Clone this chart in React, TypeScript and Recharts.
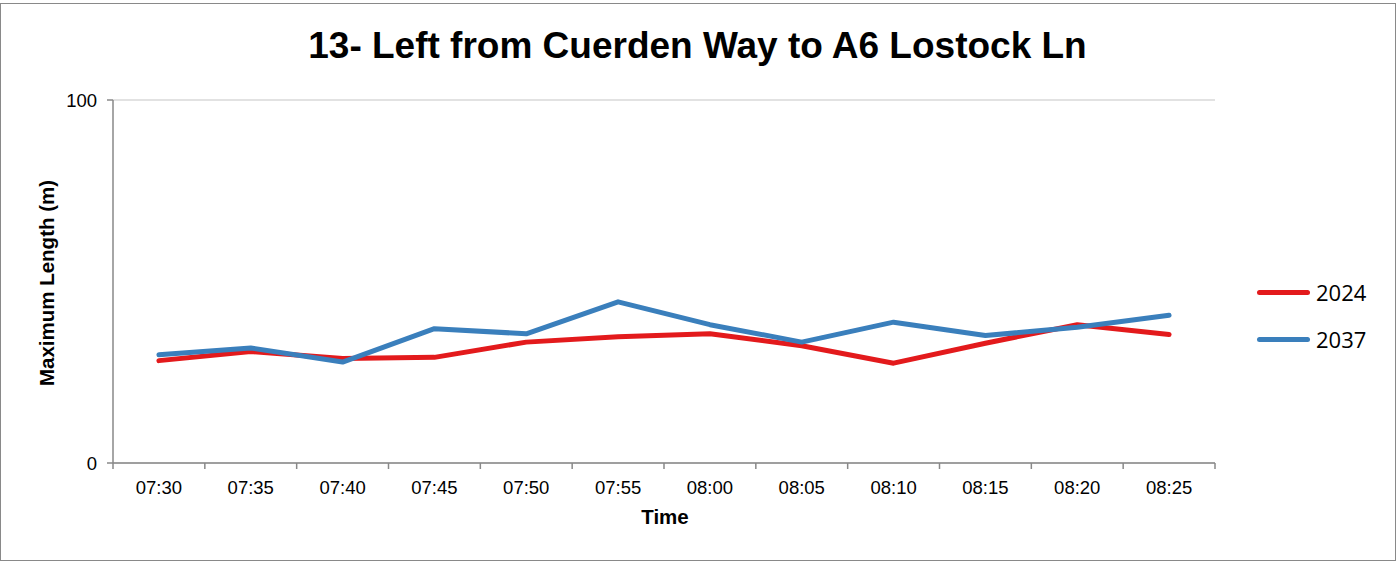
import React from 'react';
import { ComposedChart, Line, XAxis, YAxis, CartesianGrid } from 'recharts';

const times = ['07:30', '07:35', '07:40', '07:45', '07:50', '07:55', '08:00', '08:05', '08:10', '08:15', '08:20', '08:25'];
const values2024 = [28.2, 30.7, 28.8, 29.1, 33.3, 34.8, 35.6, 32.3, 27.5, 33.0, 38.1, 35.4];
const values2037 = [29.8, 31.7, 27.8, 37.0, 35.6, 44.4, 38.1, 33.3, 38.8, 35.1, 37.4, 40.7];
const yTicks = [0, 100];
const seriesNames = ['2024', '2037'];
const seriesColors = ['#e31a1c', '#3a7fbc'];

const data = times.map((t, i) => ({ time: t, s2024: values2024[i], s2037: values2037[i] }));

const W = 1397;
const H = 561;
const PLOT_LEFT = 113;
const PLOT_RIGHT = 1215;
const PLOT_TOP = 100;
const PLOT_BOTTOM = 463;
const BAND = (PLOT_RIGHT - PLOT_LEFT) / times.length;
const AXIS_COLOR = '#898989';
const FONT = '"Liberation Sans", Arial, sans-serif';

const XTick = (props: any) => {
  const { x, y, payload, index } = props;
  const last = index === times.length - 1;
  return (
    <g>
      <line x1={x - BAND / 2} x2={x - BAND / 2} y1={y} y2={y + 6} stroke={AXIS_COLOR} strokeWidth={1.5} />
      {last && <line x1={x + BAND / 2} x2={x + BAND / 2} y1={y} y2={y + 6} stroke={AXIS_COLOR} strokeWidth={1.5} />}
      <text x={x} y={y + 31} textAnchor="middle" fontSize={18.5} fill="#000" fontFamily={FONT}>
        {payload.value}
      </text>
    </g>
  );
};

export default function App() {
  return (
    <div style={{ position: 'absolute', left: 0, top: 0, width: W, height: H, background: '#fff' }}>
      <div style={{ position: 'absolute', left: 0, top: 3, width: 1394, height: 556, border: `1.5px solid ${AXIS_COLOR}` }} />
      <div
        style={{
          position: 'absolute',
          left: 0,
          top: 24,
          width: W - 2,
          textAlign: 'center',
          fontFamily: FONT,
          fontWeight: 'bold',
          fontSize: 37,
          lineHeight: '44px',
          color: '#000',
        }}
      >
        13- Left from Cuerden Way to A6 Lostock Ln
      </div>
      <div style={{ position: 'absolute', left: 0, top: 0 }}>
        <ComposedChart
          width={W}
          height={H}
          data={data}
          margin={{ top: PLOT_TOP, right: W - PLOT_RIGHT, bottom: H - PLOT_BOTTOM - 40, left: PLOT_LEFT - 80 }}
        >
          <CartesianGrid vertical={false} stroke="#d9d9d9" strokeWidth={1.5} />
          <XAxis
            dataKey="time"
            height={40}
            tickSize={0}
            tickMargin={0}
            tick={<XTick />}
            interval={0}
            padding={{ left: BAND / 2, right: BAND / 2 }}
            stroke={AXIS_COLOR}
            strokeWidth={1.5}
            label={{
              content: () => (
                <text x={665} y={524} textAnchor="middle" fontSize={20.5} fontWeight="bold" fontFamily={FONT} fill="#000">
                  Time
                </text>
              ),
            }}
          />
          <YAxis
            width={80}
            domain={[0, 100]}
            ticks={yTicks}
            tickSize={6}
            tickMargin={10}
            stroke={AXIS_COLOR}
            strokeWidth={1.5}
            tick={{ fill: '#000', fontSize: 18.5, fontFamily: FONT }}
            label={{
              content: () => (
                <text
                  x={46}
                  y={283}
                  transform="rotate(-90 46 283)"
                  textAnchor="middle"
                  dominantBaseline="central"
                  fontSize={20.5}
                  fontWeight="bold"
                  fontFamily={FONT}
                  fill="#000"
                >
                  Maximum Length (m)
                </text>
              ),
            }}
          />
          <Line dataKey="s2024" name="2024" stroke={seriesColors[0]} strokeWidth={5} dot={false} isAnimationActive={false} strokeLinejoin="round" strokeLinecap="round" />
          <Line dataKey="s2037" name="2037" stroke={seriesColors[1]} strokeWidth={5} dot={false} isAnimationActive={false} strokeLinejoin="round" strokeLinecap="round" />
        </ComposedChart>
      </div>
      <div style={{ position: 'absolute', left: 1254, top: 278 }}>
        {seriesNames.map((n, i) => (
          <div key={n} style={{ display: 'flex', alignItems: 'center', height: 28, marginBottom: i === 0 ? 19 : 0 }}>
            <div style={{ width: 53, height: 5, borderRadius: 3, background: seriesColors[i], marginLeft: 3 }} />
            <span style={{ marginLeft: 6, fontSize: 22, fontFamily: '"Open Sans", "Noto Sans", sans-serif', color: '#000', lineHeight: '28px' }}>
              {n}
            </span>
          </div>
        ))}
      </div>
    </div>
  );
}
